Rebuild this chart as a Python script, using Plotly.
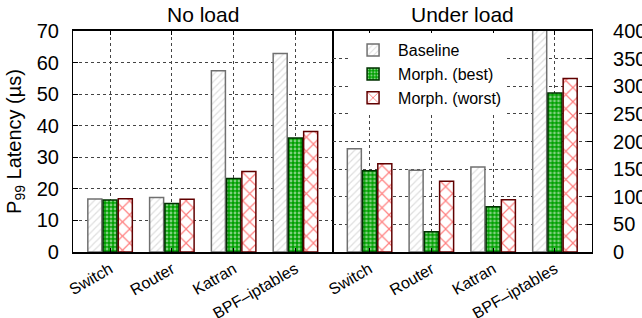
import plotly.graph_objects as go

categories = ["Switch", "Router", "Katran", "BPF–iptables"]
series_names = ["Baseline", "Morph. (best)", "Morph. (worst)"]

noload_baseline = [16.8, 17.3, 57.4, 62.9]
noload_best = [16.5, 15.4, 23.3, 36.1]
noload_worst = [16.9, 16.7, 25.5, 38.2]

load_baseline = [187, 148, 154, 420]
load_best = [147, 36.6, 82, 288]
load_worst = [159.6, 128, 94.5, 314]

left_ticks = [0, 10, 20, 30, 40, 50, 60, 70]
right_ticks = [0, 50, 100, 150, 200, 250, 300, 350, 400]

FONT = "Liberation Sans, Arial, Helvetica, sans-serif"

styles = [
    dict(marker_color="white", marker_line=dict(color="#707070", width=1.5),
         marker_pattern=dict(shape="/", fgcolor="#c0c0c0", bgcolor="white", size=5, solidity=0.25)),
    dict(marker_color="#00a000", marker_line=dict(color="#003000", width=1.5),
         marker_pattern=dict(shape=".", fgcolor="white", bgcolor="#00a000", size=4, solidity=0.4)),
    dict(marker_color="white", marker_line=dict(color="#600000", width=1.5),
         marker_pattern=dict(shape="x", fgcolor="#ff0000", bgcolor="white", size=10, solidity=0.22)),
]

fig = go.Figure()
for i, (name, vals) in enumerate(zip(series_names, [noload_baseline, noload_best, noload_worst])):
    fig.add_trace(go.Bar(x=categories, y=vals, name=name, xaxis="x", yaxis="y",
                         showlegend=True, legendgroup=name, **styles[i]))
for i, (name, vals) in enumerate(zip(series_names, [load_baseline, load_best, load_worst])):
    fig.add_trace(go.Bar(x=categories, y=vals, name=name, xaxis="x2", yaxis="y2",
                         showlegend=False, legendgroup=name, **styles[i]))

grid = dict(showgrid=True, gridcolor="#444444", griddash="dot", gridwidth=1)
xcommon = dict(type="category", range=[-0.6, 3.6], tickangle=-30, automargin=False,
               tickfont=dict(size=16, family=FONT, color="black"),
               ticks="inside", ticklen=4, tickcolor="black",
               showline=True, linecolor="black", linewidth=1.5, mirror="ticks",
               zeroline=False, **grid)

fig.update_layout(
    width=642, height=318,
    margin=dict(l=73, r=50, t=31, b=66),
    paper_bgcolor="white", plot_bgcolor="white",
    barmode="group", bargap=0.26, bargroupgap=0.08,
    font=dict(family=FONT, color="black"),
    xaxis=dict(domain=[0, 0.5], anchor="y", **xcommon),
    xaxis2=dict(domain=[0.5, 1], anchor="y2", **xcommon),
    yaxis=dict(range=[0, 70], tickvals=left_ticks, anchor="x", side="left", automargin=False,
               tickfont=dict(size=20, family=FONT), ticks="inside", ticklen=5, tickcolor="black",
               ticklabelstandoff=9,
               showline=True, linecolor="black", linewidth=1.2, mirror=True, zeroline=False,
               title=dict(text="P<sub>99</sub> Latency (µs)", font=dict(size=20, family=FONT), standoff=9),
               **grid),
    yaxis2=dict(range=[0, 400], tickvals=right_ticks, anchor="x2", side="right", automargin=False,
                tickfont=dict(size=20, family=FONT), ticks="inside", ticklen=5, tickcolor="black",
                ticklabelstandoff=16,
                showline=True, linecolor="black", linewidth=1.2, mirror=True, zeroline=False,
                **grid),
    legend=dict(x=0.53, y=0.99, xanchor="left", yanchor="top",
                bgcolor="white", borderwidth=0, tracegroupgap=0,
                font=dict(size=16, family=FONT), itemwidth=40),
    annotations=[
        dict(text="No load", x=0.25, y=1.0, xref="paper", yref="paper", xanchor="center",
             yanchor="bottom", yshift=3, showarrow=False, font=dict(size=21, family=FONT)),
        dict(text="Under load", x=0.75, y=1.0, xref="paper", yref="paper", xanchor="center",
             yanchor="bottom", yshift=3, showarrow=False, font=dict(size=21, family=FONT)),
    ],
)

fig.write_html("out.html", config={"displayModeBar": False},
               post_script="document.body.style.margin='0';")
